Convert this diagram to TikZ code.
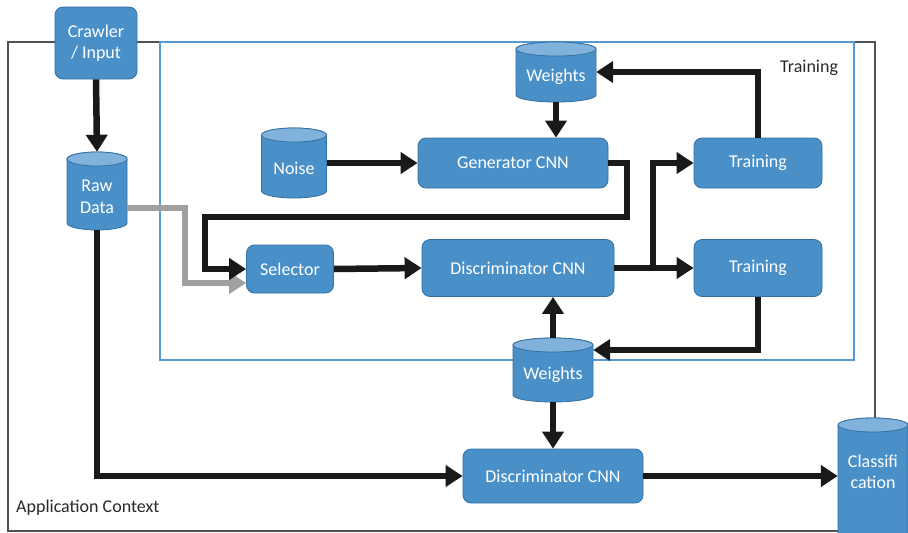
\documentclass[tikz,border=0pt]{standalone}
\usepackage{fontspec}
\setmainfont{Carlito}
\usetikzlibrary{arrows.meta,calc}

\definecolor{boxfill}{RGB}{74,144,200}
\definecolor{boxline}{RGB}{52,112,162}
\definecolor{cyltopfill}{RGB}{128,178,220}
\definecolor{trainframe}{RGB}{84,152,212}
\definecolor{appframe}{RGB}{80,80,80}
\definecolor{graylink}{RGB}{160,160,160}
\definecolor{labeltext}{RGB}{40,40,40}

\tikzset{
  x=1pt, y=-1pt,
  every node/.style={font=\fontsize{18}{21.5}\selectfont},
  procbox/.style={draw=boxline, line width=0.8pt, fill=boxfill, rounded corners=8pt,
    text=white, align=center, inner sep=0pt},
  cylbody/.style={draw=boxline, line width=0.8pt, fill=boxfill},
  cyltop/.style={draw=boxline, line width=0.8pt, fill=cyltopfill},
  cylshape/.style={inner sep=0pt},
  cyltext/.style={text=white, align=center, inner sep=0pt},
  conn/.style={draw=black!90, line width=6.5pt, -{Triangle[length=17pt,width=21pt]}},
  gconn/.style={conn, draw=graylink, -{Triangle[length=17pt,width=21pt,fill=graylink]}},
  frametitle/.style={text=labeltext, inner sep=0pt}
}

% database cylinder: name, centre x, centre y, width, height, text offset, text
\newcommand{\dbcyl}[7]{%
  \path[cylbody] ({#2-#4/2},{#3-#5/2+7}) -- ({#2-#4/2},{#3+#5/2-7})
    arc[start angle=180, end angle=360, x radius={#4/2*1pt}, y radius=7pt]
    -- ({#2+#4/2},{#3-#5/2+7})
    arc[start angle=0, end angle=180, x radius={#4/2*1pt}, y radius=7pt] -- cycle;
  \path[cyltop] (#2,{#3-#5/2+7}) ellipse[x radius={#4/2*1pt}, y radius=7pt];
  \node[cylshape, minimum width=#4pt, minimum height=#5pt] (#1) at (#2,#3) {};
  \node[cyltext] (#1-text) at (#2,{#3+#6}) {#7};
}

\begin{document}
\begin{tikzpicture}
\useasboundingbox (0,0) rectangle (908,533);

% frames
\draw[appframe, line width=1.4pt] (8,42) rectangle (875,531);
\draw[trainframe, line width=2.6pt] (160,42) rectangle (854,360);
\node[frametitle, anchor=west] (lbltrain) at (780,68) {Training};
\node[frametitle, anchor=west] (lblapp) at (16,508) {Application Context};

% process boxes
\node[procbox, minimum width=82pt, minimum height=72pt] (crawler) at (96,43) {Crawler\\/ Input};
\node[procbox, minimum width=190pt, minimum height=50pt] (gen) at (513,163) {Generator CNN};
\node[procbox, minimum width=128pt, minimum height=50pt] (trtop) at (758,163) {Training};
\node[procbox, minimum width=87pt, minimum height=48pt] (sel) at (290,269) {Selector};
\node[procbox, minimum width=192pt, minimum height=57pt] (disc) at (518,268) {Discriminator CNN};
\node[procbox, minimum width=128pt, minimum height=57pt] (trbot) at (758,268) {Training};
\node[procbox, minimum width=180pt, minimum height=54pt] (discapp) at (553,476) {Discriminator CNN};

% data stores
\dbcyl{raw}{97}{191}{60}{78}{6}{Raw\\Data}
\dbcyl{noise}{294}{163}{65}{70}{5}{Noise}
\dbcyl{wtop}{556}{72}{80}{60}{5}{Weights}
\dbcyl{wbot}{553}{370}{80}{64}{5}{Weights}
\dbcyl{cls}{873}{481}{70}{126}{-9}{Classifi\\cation}

% connectors
\coordinate (genturn) at (627,217);
\coordinate (selturn) at (205,217);
\coordinate (graybend) at (185,283);
\coordinate (split) at (653,268);

\draw[conn] (crawler.south) -- (raw.north);
\draw[gconn] ([yshift=-17pt]raw.east) -| (graybend) -- ([yshift=-14pt]sel.west);
\draw[conn] (noise.east) -- (gen.west);
\draw[conn] (wtop.south) -- (wtop.south |- gen.north);
\draw[conn] (gen.east) -| (genturn) -- (selturn) |- (sel.west);
\draw[conn] (sel.east) -- (disc.west);
\draw[conn] (disc.east) -- (trbot.west);
\draw[conn] (split) |- (trtop.west);
\draw[conn] (trtop.north) |- (wtop.east);
\draw[conn] (trbot.south) |- ([yshift=20pt]wbot.east);
\draw[conn] (wbot.north) -- (wbot.north |- disc.south);
\draw[conn] (wbot.south) -- (discapp.north);
\draw[conn] (raw.south) |- (discapp.west);
\draw[conn] (discapp.east) -- (discapp.east -| cls.west);
\end{tikzpicture}
\end{document}
